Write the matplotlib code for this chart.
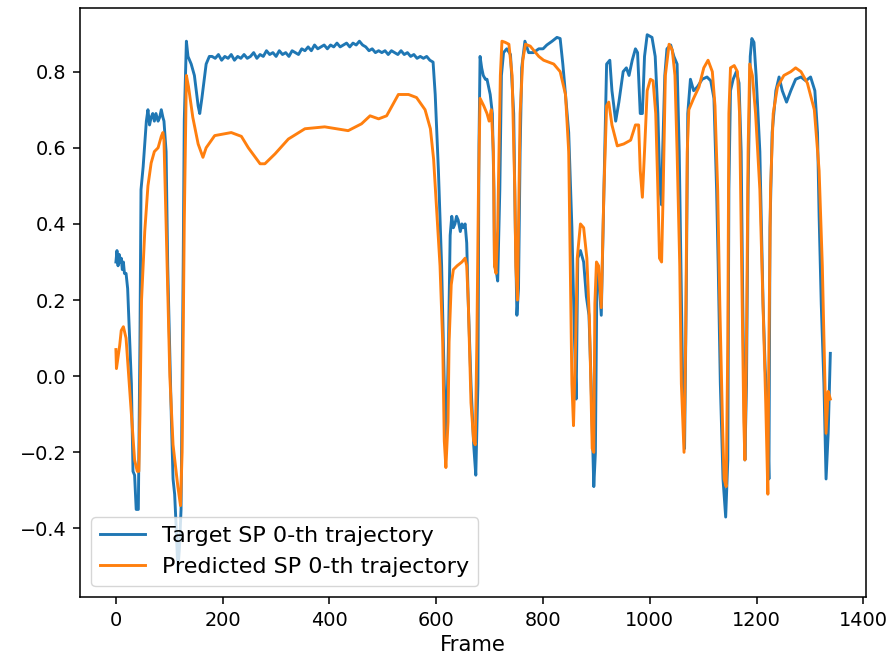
import matplotlib
matplotlib.use("Agg")
import matplotlib.pyplot as plt
import numpy as np

#target trajectory (frame, value)
tgt_frame = [0, 2, 4, 6, 8, 10, 12, 14, 16, 19, 22, 29, 32, 35, 38, 42, 45, 47, 51, 57,
             60, 63, 66, 69, 72, 75, 79, 82, 85, 88, 90, 94, 97, 104, 107, 110, 113, 116, 119, 122,
             126, 128, 132, 135, 141, 147, 154, 157, 161, 169, 175,
             180, 186, 192, 198, 204, 210, 216, 222, 228, 234, 240, 246, 252, 258, 264, 270, 276, 282, 288,
             294, 300, 306, 312, 318, 324, 330, 336, 342, 348, 354, 360, 366, 372, 378, 384, 390, 396, 402,
             408, 414, 420, 426, 432, 438, 444, 450, 456, 462, 468, 474, 480, 486, 492, 498, 504, 510, 516,
             522, 528, 534, 540, 546, 552, 558, 564, 570, 576, 582, 588, 594,
             598, 604, 610, 615, 619, 623, 626, 629, 632, 635, 638, 641, 645, 648, 651, 654, 657, 660, 665,
             670, 674, 678, 680, 682, 685, 688, 692, 695, 701, 705, 708, 709, 712, 715, 719, 722, 726, 732,
             739, 745, 748, 751, 754, 757, 760, 766, 773, 782, 792, 800, 807, 817, 826, 832, 837, 842, 848,
             854, 859, 862, 865, 870, 876, 881, 886, 890, 895, 898, 901, 904, 909, 914, 919, 925, 929, 936,
             942, 950, 956, 961, 967, 973, 977, 982, 986, 990, 995, 1004, 1010, 1015, 1019, 1022, 1024, 1028,
             1032, 1039, 1045, 1051, 1055, 1059, 1062, 1065, 1068, 1071, 1076, 1082, 1089, 1098, 1107, 1114,
             1120, 1125, 1128, 1132, 1137, 1142, 1146, 1148, 1151, 1156, 1162, 1167, 1171, 1174, 1178, 1181,
             1184, 1188, 1191, 1195, 1199, 1206, 1212, 1216, 1220, 1223, 1225, 1229, 1236, 1242, 1248, 1256,
             1264, 1273, 1283, 1292, 1301, 1309, 1314, 1317, 1321, 1326, 1330, 1334, 1338]
tgt_val = [0.30, 0.33, 0.29, 0.32, 0.30, 0.31, 0.28, 0.30, 0.27, 0.27, 0.23, -0.02, -0.25, -0.26, -0.35, -0.35, 0.09, 0.49, 0.55, 0.67,
           0.70, 0.66, 0.68, 0.69, 0.67, 0.69, 0.67, 0.68, 0.70, 0.68, 0.67, 0.59, 0.29, -0.12, -0.27, -0.31, -0.40, -0.51, -0.45, -0.35,
           0.29, 0.67, 0.88, 0.84, 0.82, 0.79, 0.71, 0.69, 0.73, 0.82, 0.84,
           0.84, 0.835, 0.845, 0.83, 0.84, 0.835, 0.845, 0.83, 0.84, 0.835, 0.845, 0.835, 0.84, 0.85, 0.835, 0.845, 0.84, 0.855, 0.845,
           0.85, 0.84, 0.855, 0.845, 0.85, 0.84, 0.855, 0.85, 0.845, 0.86, 0.855, 0.865, 0.855, 0.87, 0.86, 0.865, 0.87, 0.86, 0.87,
           0.865, 0.875, 0.865, 0.87, 0.875, 0.865, 0.875, 0.87, 0.88, 0.87, 0.865, 0.855, 0.86, 0.85, 0.855, 0.85, 0.855, 0.845, 0.855,
           0.85, 0.845, 0.855, 0.845, 0.85, 0.84, 0.845, 0.835, 0.84, 0.835, 0.84, 0.83, 0.825,
           0.74, 0.54, 0.29, -0.02, -0.17, 0.10, 0.37, 0.42, 0.39, 0.40, 0.42, 0.41, 0.38, 0.40, 0.39, 0.40, 0.35, 0.19, -0.02,
           -0.18, -0.26, -0.02, 0.61, 0.84, 0.81, 0.79, 0.78, 0.78, 0.74, 0.69, 0.49, 0.29, 0.28, 0.25, 0.49, 0.79, 0.85, 0.86,
           0.845, 0.69, 0.39, 0.16, 0.23, 0.59, 0.81, 0.88, 0.85, 0.85, 0.86, 0.86, 0.87, 0.88, 0.89, 0.887, 0.82, 0.74, 0.64,
           0.39, 0.09, -0.06, 0.31, 0.33, 0.30, 0.21, 0.16, -0.02, -0.29, -0.20, 0.29, 0.27, 0.16, 0.49, 0.82, 0.83, 0.75, 0.67,
           0.72, 0.80, 0.81, 0.79, 0.83, 0.86, 0.85, 0.69, 0.69, 0.84, 0.897, 0.89, 0.84, 0.69, 0.49, 0.45, 0.59, 0.79,
           0.86, 0.87, 0.84, 0.82, 0.59, 0.21, -0.07, -0.19, 0.19, 0.69, 0.78, 0.75, 0.76, 0.78, 0.786, 0.776,
           0.73, 0.49, 0.29, -0.02, -0.27, -0.37, -0.22, 0.49, 0.75, 0.78, 0.80, 0.77, 0.59, 0.19, -0.22, -0.02,
           0.49, 0.84, 0.887, 0.877, 0.79, 0.59, 0.19, 0.02, -0.07, -0.27, 0.39, 0.64, 0.75, 0.786, 0.75, 0.72,
           0.75, 0.78, 0.786, 0.776, 0.786, 0.75, 0.64, 0.42, 0.19, -0.02, -0.27, -0.15, 0.06]

#predicted trajectory
pred_frame = [0, 1, 4, 7, 10, 14, 19, 29, 35, 40, 43, 45, 48, 54, 60, 66, 72, 79, 85, 88,
              90, 94, 101, 107, 116, 121, 124, 128, 132, 136, 144, 154, 163, 169, 185, 216, 235, 248, 270, 279,
              298, 323, 354, 391, 435, 460, 476, 492, 507, 529, 548, 563, 579, 589, 595, 601, 607, 612, 615, 618,
              622, 624, 628, 632, 639, 648, 654, 657, 660, 665, 670, 673, 676, 679, 682, 689, 695, 699, 703, 707,
              709, 712, 715, 720, 723, 729, 736, 742, 747, 749, 752, 754, 757, 762, 767, 776, 786, 792, 801, 820,
              832, 842, 848, 851, 854, 857, 861, 864, 870, 876, 882, 887, 892, 895, 897, 900, 904, 909, 914, 919,
              923, 929, 939, 951, 964, 973, 979, 982, 986, 990, 995, 1001, 1006, 1011, 1015, 1018, 1022, 1025, 1029, 1036,
              1042, 1047, 1051, 1056, 1059, 1064, 1067, 1070, 1073, 1082, 1092, 1101, 1109, 1117, 1122, 1127, 1131, 1136, 1139, 1143,
              1146, 1148, 1151, 1158, 1164, 1168, 1172, 1176, 1178, 1181, 1184, 1187, 1192, 1198, 1206, 1212, 1217, 1221, 1223, 1226,
              1231, 1239, 1251, 1264, 1273, 1283, 1295, 1308, 1317, 1323, 1328, 1330, 1334, 1338]
pred_val = [0.07, 0.02, 0.05, 0.08, 0.12, 0.13, 0.10, -0.10, -0.22, -0.25, -0.25, -0.10, 0.20, 0.38, 0.50, 0.56, 0.59, 0.60, 0.63, 0.64,
            0.62, 0.40, 0.00, -0.18, -0.29, -0.34, -0.20, 0.40, 0.79, 0.76, 0.68, 0.61, 0.575, 0.60, 0.632, 0.64, 0.63, 0.60, 0.558, 0.558,
            0.584, 0.623, 0.65, 0.655, 0.645, 0.663, 0.684, 0.676, 0.684, 0.74, 0.74, 0.732, 0.70, 0.65, 0.57, 0.43, 0.29, 0.09, -0.17, -0.24,
            -0.12, 0.09, 0.24, 0.28, 0.29, 0.30, 0.31, 0.29, 0.19, -0.07, -0.17, -0.18, 0.09, 0.49, 0.73, 0.71, 0.69, 0.67, 0.70, 0.59,
            0.29, 0.27, 0.39, 0.79, 0.88, 0.877, 0.872, 0.79, 0.49, 0.29, 0.20, 0.39, 0.69, 0.83, 0.872, 0.867, 0.85, 0.84, 0.83, 0.82,
            0.80, 0.74, 0.59, 0.29, -0.02, -0.13, 0.09, 0.31, 0.40, 0.39, 0.31, 0.14, -0.19, -0.20, 0.19, 0.30, 0.29, 0.18, 0.49, 0.71,
            0.72, 0.66, 0.605, 0.61, 0.62, 0.66, 0.66, 0.54, 0.47, 0.59, 0.75, 0.78, 0.776, 0.69, 0.49, 0.31, 0.30, 0.49, 0.79, 0.872,
            0.857, 0.79, 0.59, 0.29, -0.02, -0.20, 0.09, 0.59, 0.70, 0.73, 0.76, 0.81, 0.83, 0.80, 0.71, 0.49, 0.19, -0.12, -0.27, -0.29,
            0.09, 0.69, 0.81, 0.816, 0.80, 0.69, 0.29, -0.12, -0.22, 0.09, 0.59, 0.82, 0.79, 0.69, 0.49, 0.19, -0.07, -0.31, 0.09, 0.49,
            0.69, 0.76, 0.79, 0.80, 0.81, 0.80, 0.77, 0.70, 0.54, 0.29, -0.02, -0.15, -0.04, -0.06]

#reference looks like a default 640x480 figure blown up ~1.39x
k = 1.39
fig = plt.figure(figsize=(8.91, 6.62), dpi=100)
ax = fig.add_axes([0.09, 0.098, 0.882, 0.89])
ax.plot(tgt_frame, tgt_val, linewidth=1.5 * k, label="Target SP 0-th trajectory")
ax.plot(pred_frame, pred_val, linewidth=1.5 * k, label="Predicted SP 0-th trajectory")
ax.set_xlabel("Frame", fontsize=11 * k, labelpad=3 * k)
ax.tick_params(labelsize=10 * k, length=3.5 * k, width=0.8 * k, pad=3.5 * k)
for sp in ax.spines.values():
    sp.set_linewidth(0.8 * k)
ax.legend(loc="lower left", fontsize=11.5 * k)
fig.savefig("out.png", dpi=100)
